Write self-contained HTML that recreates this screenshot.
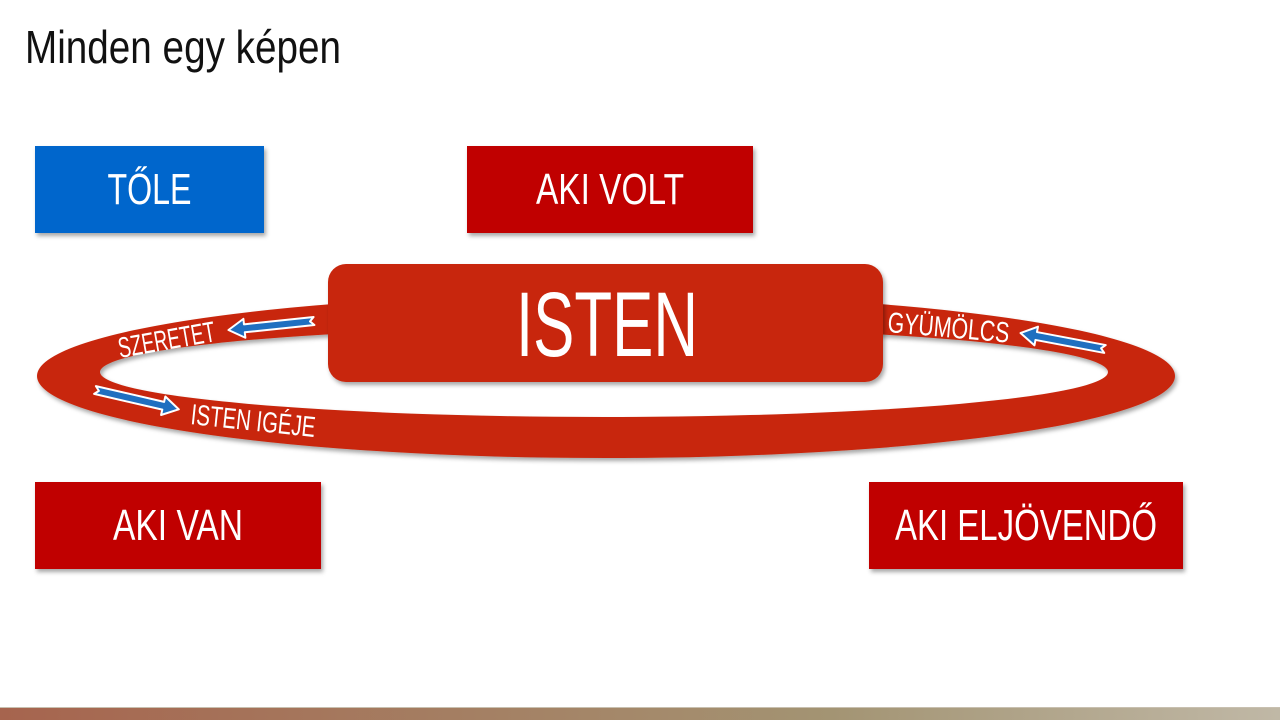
<!DOCTYPE html>
<html><head><meta charset="utf-8"><style>
html,body{margin:0;padding:0;background:#fff;width:1280px;height:720px;overflow:hidden}
svg{display:block}
text{font-family:"Liberation Sans Narrow","Liberation Sans",sans-serif;}
</style></head><body>
<svg width="1280" height="720" viewBox="0 0 1280 720" xmlns="http://www.w3.org/2000/svg">
<defs>
<linearGradient id="bar" x1="0" x2="1" y1="0" y2="0">
<stop offset="0" stop-color="#a6644e"/><stop offset="0.65" stop-color="#a39473"/><stop offset="1" stop-color="#c0b8a6"/>
</linearGradient>
<filter id="sh" x="-5%" y="-10%" width="110%" height="130%"><feDropShadow dx="2" dy="3" stdDeviation="2" flood-opacity="0.35"/></filter>
<polygon id="arr" points="0,-4 70,-4 70,-9.5 86,0 70,9.5 70,4 0,4 4,0" fill="#1f6fc0" stroke="#fff" stroke-width="2" stroke-linejoin="round"/>
</defs>
<text x="25" y="63" font-size="46" fill="#111" textLength="316" lengthAdjust="spacingAndGlyphs">Minden egy képen</text>

<rect x="35" y="146" width="229" height="87" fill="#0066cc" filter="url(#sh)"/>
<text x="149.5" y="204" font-size="44" fill="#fff" text-anchor="middle" textLength="84" lengthAdjust="spacingAndGlyphs">TŐLE</text>
<rect x="467" y="146" width="286" height="87" fill="#c00000" filter="url(#sh)"/>
<text x="610" y="204" font-size="44" fill="#fff" text-anchor="middle" textLength="148" lengthAdjust="spacingAndGlyphs">AKI VOLT</text>
<rect x="35" y="482" width="286" height="87" fill="#c00000" filter="url(#sh)"/>
<text x="178" y="540" font-size="44" fill="#fff" text-anchor="middle" textLength="130" lengthAdjust="spacingAndGlyphs">AKI VAN</text>
<rect x="869" y="482" width="314" height="87" fill="#c00000" filter="url(#sh)"/>
<text x="1026" y="540" font-size="44" fill="#fff" text-anchor="middle" textLength="262" lengthAdjust="spacingAndGlyphs">AKI ELJÖVENDŐ</text>

<path filter="url(#sh)" fill="#c8260a" fill-rule="evenodd" d="M37,376 A569,82 0 1,0 1175,376 A569,82 0 1,0 37,376 Z M100,372 A504,45 0 1,0 1108,372 A504,45 0 1,0 100,372 Z"/>
<rect x="328" y="264" width="555" height="118" rx="18" fill="#c8260a" filter="url(#sh)"/>
<text x="607" y="356" font-size="92" fill="#fff" text-anchor="middle" textLength="182" lengthAdjust="spacingAndGlyphs">ISTEN</text>

<text x="120" y="358" font-size="29" fill="#fff" transform="rotate(-10 120 358)" textLength="98" lengthAdjust="spacingAndGlyphs">SZERETET</text>
<text x="190" y="424" font-size="29" fill="#fff" transform="rotate(6 190 424)" textLength="125" lengthAdjust="spacingAndGlyphs">ISTEN IGÉJE</text>
<text x="887" y="332" font-size="29" fill="#fff" transform="rotate(5 887 332)" textLength="122" lengthAdjust="spacingAndGlyphs">GYÜMÖLCS</text>

<use href="#arr" transform="translate(314,321) rotate(174)"/>
<use href="#arr" transform="translate(95,390) rotate(13)"/>
<use href="#arr" transform="translate(1105,349) rotate(190.7)"/>

<rect x="0" y="707" width="1280" height="13" fill="url(#bar)"/>
<rect x="0" y="707" width="1280" height="1" fill="#c8c0b0"/>
</svg>
</body></html>
